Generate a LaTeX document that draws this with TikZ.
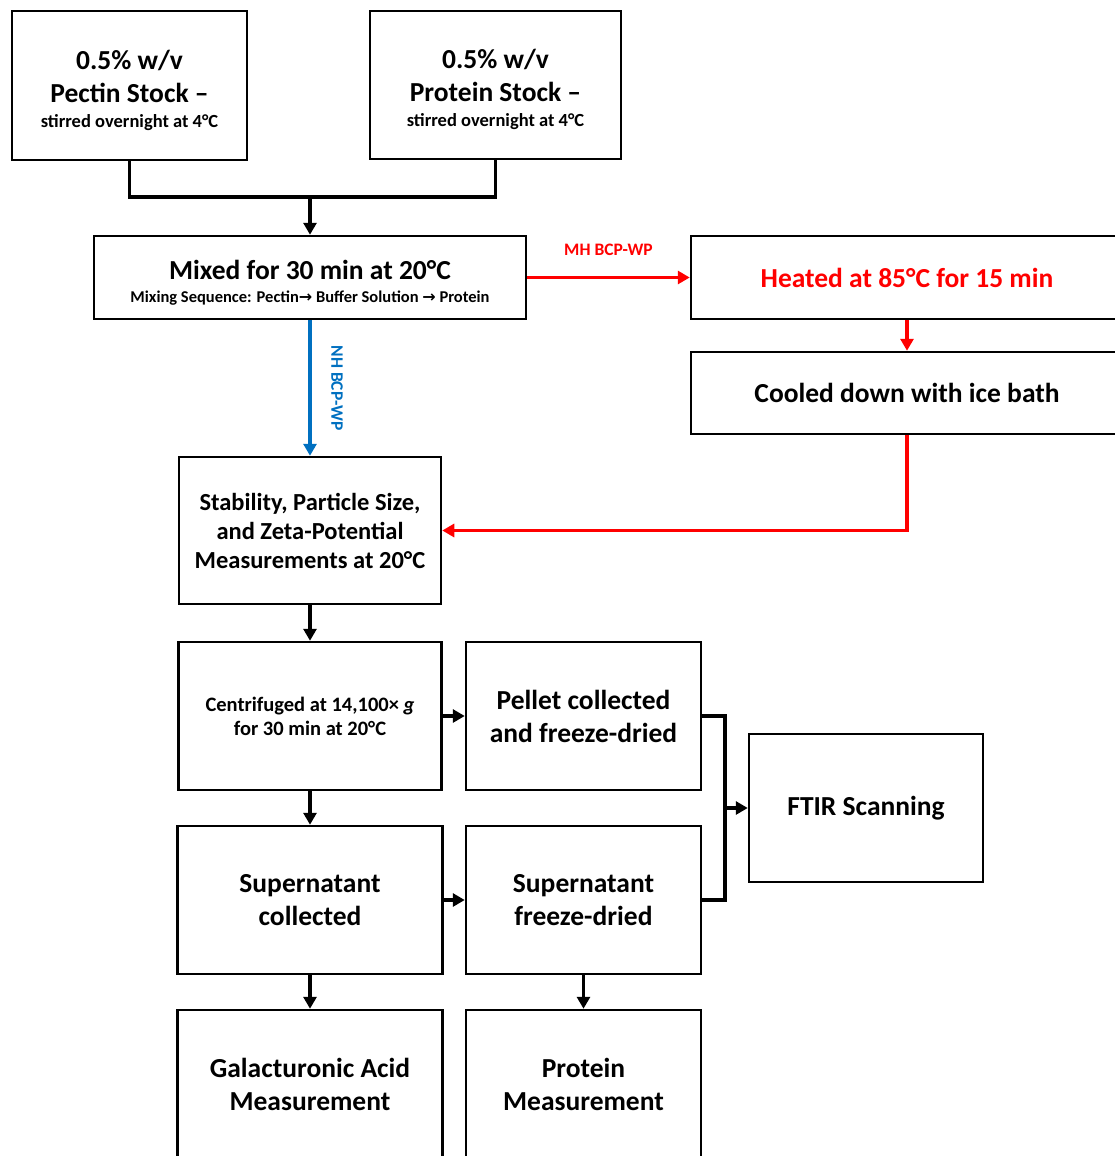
\documentclass[tikz,border=0pt]{standalone}
\usepackage{fontspec}
\setmainfont{Carlito}
\newfontfamily\arrowfont{DejaVu Sans}
\usepackage{xcolor}
\usepackage{tikz}
\usetikzlibrary{positioning}
\usetikzlibrary{arrows.meta}
\definecolor{heatred}{RGB}{255,0,0}
\definecolor{nhblue}{RGB}{0,112,192}
\newcommand{\subline}{\fontsize{18.5}{21}\selectfont}
\newcommand{\seqarrow}{{\arrowfont\bfseries\fontsize{16}{16}\selectfont →}}
\newcommand{\topstrut}[1]{\rule{0pt}{#1}}

\begin{document}
\begin{tikzpicture}
  [
    x=1pt, y=-1pt,
    box/.style={
       draw=black,
       line width=2.5pt,
       align=center,
       inner sep=0pt,
       font=\bfseries\fontsize{27.5}{33}\selectfont
    },
    midbox/.style={
       box,
       font=\bfseries\fontsize{24.5}{29}\selectfont
    },
    ln/.style={
       draw=black,
       line width=3.2pt
    },
    ar/.style={
       ln,
       -{Triangle[length=12pt,width=13pt]}
    },
    lbl/.style={
       font=\bfseries\fontsize{17.5}{20}\selectfont
    }
  ]
  \useasboundingbox (0,0) rectangle (1115,1156);
  \clip (0,0) rectangle (1115,1156);

  % stock solutions
  \node (pectin) at (129.5,85.5) [box, minimum width=235pt, minimum height=149pt]
        {\topstrut{29pt}0.5\% w/v\\Pectin Stock --\\[-8pt]{\subline stirred overnight at 4°C}};
  \node (protst) at (495.5,85)   [box, minimum width=251pt, minimum height=148pt]
        {\topstrut{29pt}0.5\% w/v\\Protein Stock --\\[-8pt]{\subline stirred overnight at 4°C}};
  \coordinate (join) at (310,197);

  % mixing and the two routes
  \node (mix)  at (310,277.5) [box, minimum width=432pt, minimum height=83pt]
        {\topstrut{30pt}Mixed for 30 min at 20°C\\[-10pt]{\fontsize{16.5}{18}\selectfont Mixing Sequence: Pectin\seqarrow{} Buffer Solution \seqarrow{} Protein}};
  \node (heat) at (907,277.5) [box, minimum width=432pt, minimum height=83pt, text=heatred]
        {Heated at 85°C for 15 min};
  \node (cool) at (907,393)   [box, minimum width=432pt, minimum height=82pt]
        {Cooled down with ice bath};

  % measurements
  \node (stab)   at (310,530.5) [midbox, minimum width=262pt, minimum height=147pt]
        {Stability, Particle Size,\\and Zeta-Potential\\Measurements at 20°C};
  \node (centr)  at (310,716)   [box, font=\bfseries\fontsize{20.5}{24}\selectfont,
                                 minimum width=263pt, minimum height=148pt]
        {Centrifuged at 14,100× \textit{g}\\for 30 min at 20°C};
  \node (pellet) at (583.5,716) [box, minimum width=235pt, minimum height=148pt]
        {Pellet collected\\and freeze-dried};
  \node (supc)   at (310,900)   [box, minimum width=265pt, minimum height=148pt]
        {Supernatant\\collected};
  \node (supfd)  at (583.5,900) [box, minimum width=235pt, minimum height=148pt]
        {Supernatant\\freeze-dried};
  \node (ftir)   at (866,808)   [box, minimum width=234pt, minimum height=148pt]
        {FTIR Scanning};
  \node (galac)  at (310,1084)  [box, minimum width=265pt, minimum height=148pt]
        {Galacturonic Acid\\Measurement};
  \node (protm)  at (583.5,1084) [box, minimum width=235pt, minimum height=148pt]
        {Protein\\Measurement};
  \coordinate (brk) at (725,808);

  % connectors
  \draw [ln] (pectin.south) |- (join) -| (protst.south);
  \draw [ar] (join) -- (mix);
  \draw [ar, heatred] (mix) -- node [lbl, heatred, midway, yshift=28pt] (mhlbl) {MH BCP-WP} (heat);
  \draw [ar, heatred] (heat) -- (cool);
  \draw [ar, heatred] (cool.south) |- (stab.east);
  \draw [ar, nhblue] (mix) -- node [lbl, nhblue, midway, xshift=27pt, rotate=-90] (nhlbl) {NH BCP-WP} (stab);
  \draw [ar] (stab) -- (centr);
  \draw [ar] (centr) -- (pellet);
  \draw [ar] (centr) -- (supc);
  \draw [ar] (supc) -- (supfd);
  \draw [ln] (pellet.east) -| (brk) |- (supfd.east);
  \draw [ar] (brk) -- (ftir);
  \draw [ar] (supc) -- (galac);
  \draw [ar] (supfd) -- (protm);
\end{tikzpicture}
\end{document}
